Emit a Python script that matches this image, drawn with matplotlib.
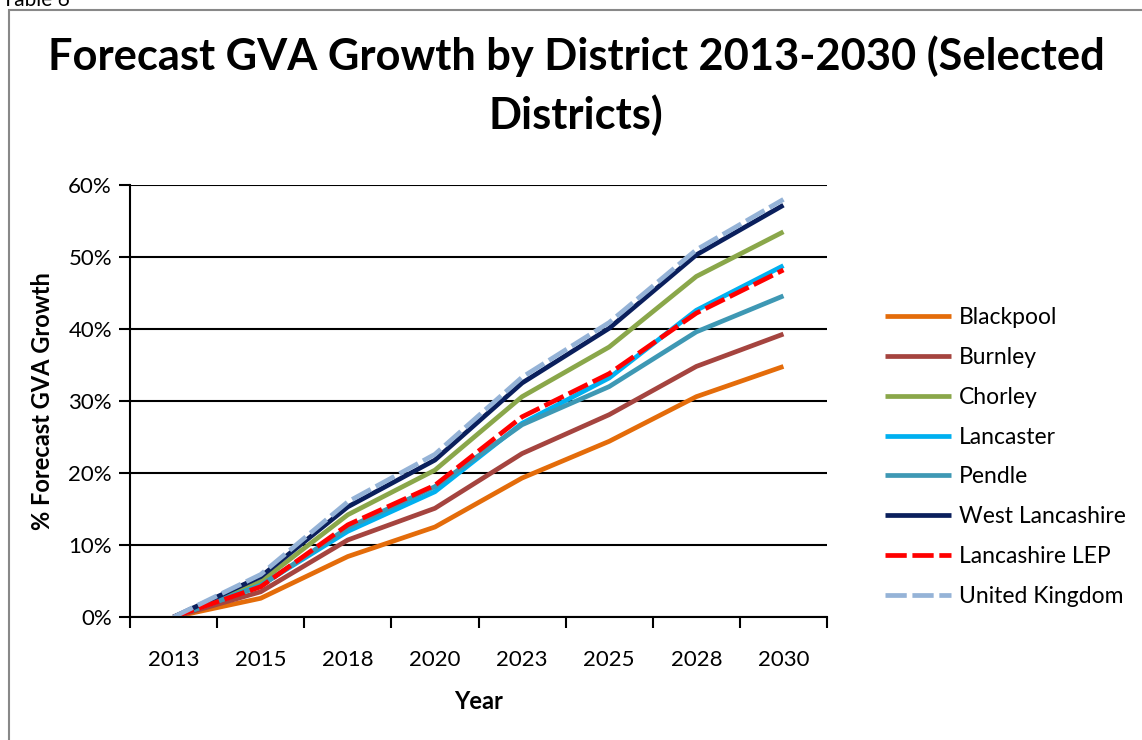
import numpy as np
import matplotlib
matplotlib.use('Agg')
import matplotlib.pyplot as plt
from matplotlib.patches import Rectangle
from matplotlib.ticker import FuncFormatter, FixedLocator

plt.rcParams['font.family'] = ['Lato', 'DejaVu Sans']

years = ['2013', '2015', '2018', '2020', '2023', '2025', '2028', '2030']

blackpool = [0.0, 2.6, 8.4, 12.5, 19.3, 24.4, 30.6, 34.8]
burnley = [0.0, 3.5, 10.7, 15.1, 22.7, 28.1, 34.8, 39.3]
chorley = [0.0, 4.9, 14.2, 20.4, 30.6, 37.5, 47.3, 53.5]
lancaster = [0.0, 4.4, 11.9, 17.4, 26.9, 33.2, 42.6, 48.8]
pendle = [0.0, 4.3, 12.4, 18.1, 26.7, 32.0, 39.6, 44.6]
west_lancs = [0.0, 5.6, 15.3, 21.8, 32.5, 40.1, 50.3, 57.2]
lancs_lep = [0.0, 4.2, 12.8, 18.3, 27.8, 33.8, 42.2, 48.2]
uk = [0.0, 5.9, 16.0, 22.6, 33.3, 40.9, 51.0, 58.0]

series = [
    ('Blackpool', blackpool, '#E46C0A', '-'),
    ('Burnley', burnley, '#A5443F', '-'),
    ('Chorley', chorley, '#8AA74A', '-'),
    ('Lancaster', lancaster, '#00B0F0', '-'),
    ('Pendle', pendle, '#3E98B4', '-'),
    ('West Lancashire', west_lancs, '#0A1F5C', '-'),
    ('Lancashire LEP', lancs_lep, '#FF0000', '--'),
    ('United Kingdom', uk, '#95B3D7', '--'),
]

fig = plt.figure(figsize=(11.42, 7.4), dpi=100)
ax = fig.add_axes([130/1142, 1 - 617/740, (827 - 130)/1142, (617 - 185)/740])

x = np.arange(len(years))
for name, vals, col, ls in series:
    line, = ax.plot(x, vals, color=col, lw=3.4, ls=ls, label=name, solid_capstyle='butt')
    if ls == '--':
        line.set_dashes((4.5, 1.2))

ax.set_xlim(-0.5, len(years) - 0.5)
ax.set_ylim(0, 60)
ax.set_yticks(np.arange(0, 61, 10))
ax.yaxis.set_major_formatter(FuncFormatter(lambda v, p: '%d%%' % v))
ax.grid(axis='y', color='black', lw=1.5)
ax.set_axisbelow(True)

ax.set_xticks(x)
ax.set_xticklabels(years)
ax.xaxis.set_minor_locator(FixedLocator(np.arange(-0.5, len(years), 1)))
ax.tick_params(axis='x', which='major', length=0, pad=24, labelsize=16)
ax.tick_params(axis='x', which='minor', length=8, width=1.5, direction='out')
ax.tick_params(axis='y', length=8, width=1.5, labelsize=16, pad=5)

for s in ['top', 'right']:
    ax.spines[s].set_visible(False)
for s in ['left', 'bottom']:
    ax.spines[s].set_linewidth(1.5)

ax.set_xlabel('Year', fontsize=17, fontweight='bold', labelpad=14)
ax.set_ylabel('% Forecast GVA Growth', fontsize=17, fontweight='bold', labelpad=10)

fig.text(576/1142, 1 - 86/740, 'Forecast GVA Growth by District 2013-2030 (Selected\nDistricts)',
         ha='center', va='center', fontsize=31.2, fontweight='bold', linespacing=1.5)

fig.text(0.002, 1.0, 'Table 6', ha='left', va='center', fontsize=15)

fig.patches.append(Rectangle((9/1142, -0.01), 1.2, 1 - 10/740 + 0.01, transform=fig.transFigure,
                             fill=False, edgecolor='#888888', lw=1.5))

ax.legend(loc='center left', bbox_to_anchor=(864/1142, 1 - 457/740), bbox_transform=fig.transFigure,
          frameon=False, fontsize=16.5, handlelength=2.9, labelspacing=0.82, handletextpad=0.35)

fig.savefig('out.png', dpi=100)
